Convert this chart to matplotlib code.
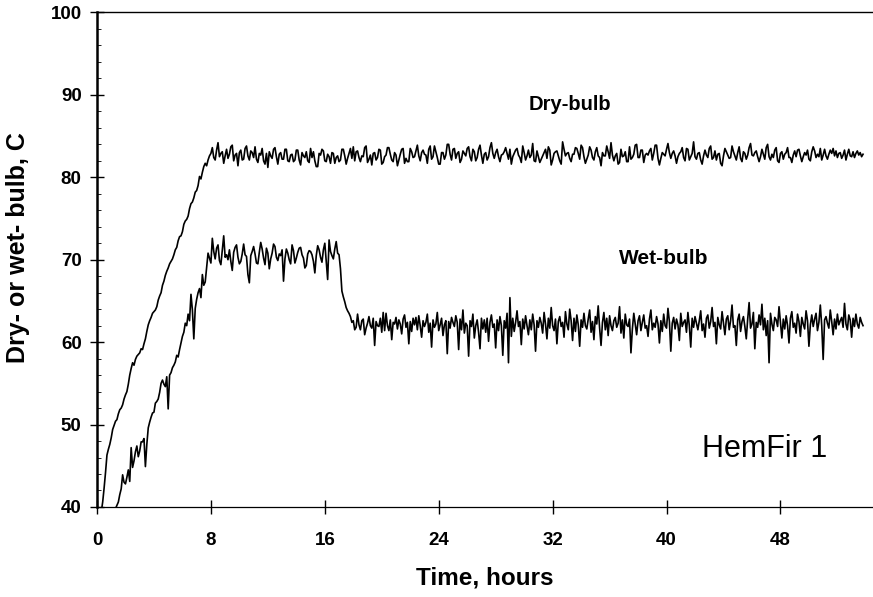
import matplotlib.pyplot as plt
import numpy as np

plt.rcParams['font.family'] = ['Liberation Sans', 'DejaVu Sans']

# kiln temperatures, one reading every 0.1 h
dt = 0.1

dry_bulb = [
    # warm-up, 0 - 8 h
    36.5, 37.5, 38.5, 39.4, 40.6, 42.3, 44.2, 46.3, 47.0, 47.6,
    48.4, 49.4, 49.9, 50.4, 50.6, 51.3, 51.8, 52.0, 52.4, 53.1,
    53.6, 54.0, 54.9, 56.0, 56.8, 57.5, 57.2, 57.9, 58.3, 58.5,
    58.7, 59.2, 59.1, 59.8, 60.4, 61.3, 62.1, 62.6, 63.0, 63.5,
    63.7, 63.9, 64.3, 65.1, 65.6, 66.0, 66.9, 67.4, 68.1, 68.6,
    69.0, 69.5, 69.8, 70.1, 70.6, 71.2, 71.5, 72.3, 72.8, 72.9,
    73.4, 74.3, 74.7, 74.9, 75.3, 76.2, 76.8, 77.0, 77.5, 78.2,
    78.4, 79.0, 80.1, 79.8, 80.6, 81.3, 81.7, 81.4, 82.1, 82.6,
    82.9,
    # holding at about 82.5 C
    83.6, 82.4, 82.1, 83.3, 84.2, 82.5, 82.9, 83.1, 81.7, 82.6,
    83.4, 82.3, 82.8, 83.7, 83.9, 82.0, 82.7, 82.9, 81.4, 83.0,
    83.3, 82.1, 82.2, 83.5, 83.8, 82.6, 82.1, 83.2, 83.0, 82.4,
    83.7, 82.2, 81.8, 82.9, 82.7, 83.5, 82.0, 81.6, 82.9, 81.2,
    83.1, 82.6, 82.3, 83.4, 83.6, 82.5, 81.6, 82.8, 83.0, 82.2,
    82.2, 83.4, 83.4, 82.0, 81.9, 82.7, 82.8, 81.9, 82.1, 83.3,
    83.3, 82.1, 81.5, 83.0, 82.6, 82.4, 83.1, 82.0, 81.8, 83.5,
    82.4, 83.1, 82.0, 81.3, 81.3, 82.9, 82.7, 83.4, 83.2, 82.0,
    81.9, 82.8, 82.5, 81.7, 83.0, 82.9, 81.7, 82.4, 82.6, 81.9,
    82.1, 83.4, 83.4, 82.6, 81.6, 82.3, 82.9, 83.5, 82.3, 83.7,
    82.0, 83.1, 83.2, 82.4, 81.9, 82.6, 82.5, 83.6, 83.8, 81.8,
    82.2, 82.7, 81.5, 82.9, 83.0, 82.1, 82.4, 83.4, 83.3, 81.6,
    81.8, 82.5, 82.7, 83.6, 83.6, 82.8, 82.1, 81.9, 83.0, 82.7,
    81.4, 82.1, 82.8, 83.4, 83.5, 81.7, 82.3, 81.9, 81.9, 83.5,
    83.1, 82.4, 82.5, 83.2, 83.9, 82.6, 82.0, 83.0, 83.3, 82.8,
    82.7, 81.7, 83.4, 83.8, 82.2, 82.5, 83.8, 83.1, 82.4, 81.6,
    81.6, 83.0, 83.0, 82.2, 82.7, 84.0, 84.0, 82.8, 82.1, 83.4,
    83.5, 82.3, 82.9, 83.1, 81.8, 82.2, 83.2, 82.9, 82.6, 83.5,
    83.7, 82.5, 82.0, 83.4, 83.1, 82.0, 82.4, 83.4, 83.9, 82.7,
    81.7, 82.8, 83.0, 82.1, 82.5, 83.6, 84.2, 82.9, 82.3, 83.0,
    83.4, 82.5, 81.9, 82.7, 82.8, 83.1, 83.6, 82.9, 82.2, 83.4,
    81.6, 82.5, 82.9, 83.3, 83.5, 82.7, 82.4, 81.8, 83.8, 83.0,
    82.1, 82.6, 83.3, 82.4, 82.7, 84.1, 82.0, 81.9, 83.2, 82.5,
    81.8, 82.2, 82.6, 83.0, 83.4, 82.3, 83.7, 83.3, 81.5, 82.1,
    82.9, 83.1, 83.2, 82.6, 82.0, 81.6, 84.3, 83.4, 82.6, 82.9,
    83.0, 82.3, 81.9, 82.8, 82.8, 83.6, 83.5, 82.9, 82.2, 83.9,
    83.6, 82.5, 81.7, 82.2, 82.7, 83.7, 83.3, 82.4, 82.1, 83.1,
    83.6, 82.6, 82.4, 81.4, 83.0, 82.6, 82.6, 83.8, 83.1, 82.3,
    84.2, 82.7, 82.0, 82.6, 82.9, 81.6, 81.8, 83.4, 82.5, 82.6,
    83.1, 81.9, 81.9, 83.7, 82.2, 82.4, 82.8, 83.9, 84.0, 82.4,
    82.4, 83.3, 83.3, 81.8, 82.7, 82.9, 82.7, 83.2, 83.5, 82.1,
    82.9, 83.9, 83.9, 82.3, 81.5, 82.3, 83.0, 82.8, 82.6, 83.4,
    84.1, 83.0, 82.3, 82.9, 83.2, 82.6, 81.7, 82.5, 82.9, 83.1,
    83.6, 82.4, 82.0, 83.5, 83.4, 82.1, 82.5, 82.9, 84.3, 82.5,
    82.2, 82.9, 83.0, 82.1, 81.6, 82.6, 83.3, 82.7, 82.4, 83.5,
    83.8, 82.2, 82.4, 83.2, 82.1, 82.8, 82.9, 81.7, 81.4, 82.6,
    83.5, 83.1, 82.7, 82.3, 82.4, 83.8, 83.1, 82.6, 82.1, 83.0,
    83.7, 82.3, 81.9, 83.1, 82.9, 82.2, 82.7, 83.6, 84.1, 82.7,
    82.6, 83.0, 83.2, 82.5, 81.9, 82.5, 83.4, 82.8, 82.2, 83.6,
    84.0, 82.5, 82.1, 82.8, 82.4, 83.3, 83.6, 82.0, 81.8, 82.9,
    83.1, 82.2, 82.8, 83.0, 83.6, 82.4, 82.4, 81.8, 82.7, 83.2,
    82.5, 83.3, 83.4, 82.6, 81.9, 82.5, 83.0, 82.7, 83.3, 82.2,
    82.0, 83.1, 83.7, 83.2, 82.4, 82.8, 82.5, 83.5, 82.1, 82.7,
    83.4, 82.6, 82.2, 82.8, 83.3, 82.9, 83.5, 82.6, 83.2, 82.4,
    82.9, 83.0, 82.3, 82.7, 83.3, 82.1, 82.8, 83.4, 82.6, 82.5,
    83.1, 82.4, 82.9, 83.2, 82.7, 83.0, 82.5, 82.8,
]

wet_bulb = [
    # warm-up, 0 - 8 h
    34.5, 34.9, 35.3, 35.6, 36.0, 36.4, 36.8, 37.2, 37.6, 38.0,
    38.4, 38.9, 39.3, 39.8, 40.2, 40.6, 41.5, 42.2, 43.9, 43.0,
    42.8, 43.6, 44.5, 43.1, 47.2, 44.8, 45.6, 46.7, 47.4, 46.1,
    46.8, 47.9, 47.9, 48.3, 44.9, 47.6, 49.6, 50.3, 50.9, 51.4,
    51.5, 52.6, 52.8, 53.1, 53.9, 55.0, 55.4, 54.9, 54.6, 55.8,
    51.9, 56.0, 56.3, 56.9, 57.2, 57.6, 58.4, 58.2, 59.1, 59.9,
    60.7, 61.2, 62.3, 62.0, 63.4, 62.6, 65.8, 63.9, 60.4, 64.1,
    65.2, 66.0, 66.5, 65.4, 68.2, 66.9, 67.3, 69.1, 70.8, 70.2,
    69.6,
    # first hold, about 70.5 C
    72.6, 71.0, 70.1, 71.4, 71.8, 69.9, 69.4, 71.2, 72.9, 70.3,
    70.6, 70.0, 71.2, 69.8, 68.7, 70.9, 71.5, 71.8, 70.3, 69.5,
    69.8, 70.7, 71.9, 70.6, 70.4, 68.2, 67.2, 70.5, 71.0, 71.6,
    70.7, 69.6, 69.5, 70.9, 72.1, 71.3, 70.2, 69.4, 71.4, 70.8,
    68.9, 70.1, 70.8, 71.9, 71.6, 70.3, 69.9, 70.7, 70.5, 71.2,
    67.4, 70.1, 71.3, 70.8, 70.0, 69.5, 71.8, 71.1, 69.6, 70.2,
    70.9, 71.4, 71.5, 70.6, 70.2, 69.0, 69.3, 70.7, 71.1, 71.0,
    70.6, 69.8, 68.4, 70.5, 71.7, 71.2, 70.3, 69.7, 71.2, 72.0,
    69.8, 67.6, 72.4, 71.0, 70.5, 70.1, 71.3, 72.2, 70.8, 70.6,
    # step down at 17 h
    68.9, 66.2, 65.5, 64.9, 64.2, 63.8, 63.5, 63.1, 62.4, 62.6,
    61.5, 61.8,
    # second hold, about 62 C
    63.4, 62.1, 61.5, 62.6, 62.8, 60.9, 61.7, 62.3, 63.1, 62.0,
    61.7, 62.9, 59.6, 62.5, 62.0, 61.9, 62.9, 61.2, 63.6, 61.4,
    63.5, 62.0, 61.4, 62.7, 60.3, 62.4, 62.2, 63.0, 61.6, 62.7,
    62.2, 61.0, 62.8, 63.3, 61.8, 62.4, 59.8, 62.5, 61.3, 62.9,
    62.1, 63.0, 61.5, 63.2, 62.0, 60.6, 62.6, 61.9, 62.4, 63.4,
    61.2, 62.3, 59.4, 62.7, 61.8, 62.2, 63.6, 61.4, 62.1, 62.9,
    60.8, 62.1, 62.6, 58.6, 62.5, 61.7, 63.0, 62.4, 61.9, 63.2,
    62.4, 59.1, 62.8, 61.5, 63.9, 61.1, 62.3, 62.0, 58.3, 62.6,
    61.9, 63.4, 60.5, 62.0, 62.7, 61.2, 59.2, 62.9, 61.6, 62.7,
    61.2, 62.9, 60.1, 62.4, 63.3, 61.8, 62.2, 59.3, 62.7, 61.4,
    63.1, 62.0, 58.4, 62.6, 61.7, 63.5, 57.5, 65.4, 60.7, 62.9,
    61.3, 62.4, 63.8, 61.9, 62.5, 59.7, 62.8, 61.6, 63.2, 62.0,
    60.9, 62.7, 61.5, 63.4, 62.1, 58.9, 62.6, 61.8, 63.0, 62.3,
    61.1, 63.6, 62.2, 60.4, 62.9, 61.7, 64.2, 62.0, 61.4, 62.8,
    59.8, 62.5, 63.1, 61.9, 62.4, 60.6, 63.7, 62.2, 61.5, 64.0,
    62.6, 60.2, 62.9, 61.3, 63.3, 62.1, 59.5, 62.7, 61.8, 63.5,
    62.0, 61.6, 62.8, 63.9, 61.2, 62.5, 60.3, 63.1, 62.2, 64.4,
    61.7, 59.6, 62.4, 63.6, 61.5, 62.9, 60.8, 63.2, 62.0, 61.4,
    62.6, 63.0, 61.8, 62.3, 64.3, 61.1, 62.7, 60.5, 63.4, 62.1,
    61.9, 62.8, 58.7, 61.6, 63.5, 62.2, 60.9, 62.6, 63.2, 61.4,
    62.4, 63.3, 61.7, 62.0, 60.7, 62.8, 63.9, 61.5, 62.3, 61.8,
    63.1, 62.2, 59.9, 62.6, 61.3, 63.4, 62.0, 61.7, 64.1, 62.5,
    58.9, 62.3, 63.0, 61.6, 62.8, 62.1, 60.2, 63.5, 61.9, 62.4,
    62.7, 61.2, 63.6, 62.0, 59.4, 62.9, 61.8, 63.1, 62.3, 61.5,
    62.6, 63.8, 61.4, 62.2, 60.6, 62.9, 63.3, 61.7, 62.5, 64.2,
    61.9, 62.4, 59.8, 63.0, 62.1, 61.6, 63.7, 62.3, 60.9, 62.8,
    63.2, 61.5, 62.6, 64.5, 61.8, 62.0, 59.6, 62.7, 63.4, 61.3,
    62.5, 63.1, 61.9, 60.4, 62.8, 64.8, 61.7, 62.2, 63.6, 59.2,
    62.4, 61.8, 63.3, 62.1, 64.6, 61.5, 62.9, 60.8, 62.6, 57.5,
    63.5, 62.2, 61.4, 63.0, 62.7, 61.9, 64.3, 62.4, 60.5, 62.8,
    61.6, 63.2, 62.0, 59.9, 62.9, 63.7, 61.8, 62.3, 61.1, 63.4,
    62.5, 60.7, 63.0, 62.2, 61.6, 63.8, 62.6, 59.5, 62.1, 63.3,
    61.9, 62.8, 63.5, 61.4, 62.4, 64.5, 62.0, 57.9, 62.7, 63.1,
    62.3, 61.7, 63.9, 62.5, 60.9, 62.8, 61.6, 63.4, 62.1, 62.6,
    63.0, 61.8, 64.7, 62.2, 61.5, 63.3, 62.7, 60.6, 62.9, 61.9,
    63.4, 62.2, 61.7, 63.0, 62.4, 62.0,
]

hours = np.arange(len(dry_bulb)) * dt

fig = plt.figure(figsize=(8.73, 5.97), dpi=100)
ax = fig.add_axes([0.1111, 0.1508, 0.8889, 0.8283])

ax.plot(hours, dry_bulb, color='black', lw=1.2)
ax.plot(hours, wet_bulb, color='black', lw=1.2)

ax.set_xlim(0, 54.5)
ax.set_ylim(40, 100)
ax.set_xticks(np.arange(0, 49, 8))
ax.set_yticks(np.arange(40, 101, 10))
ax.set_yticks(np.arange(40, 101, 2), minor=True)

ax.tick_params(axis='both', which='major', direction='inout', length=10,
               width=1.0, labelsize=13.5, colors='black')
ax.tick_params(axis='x', which='major', pad=13)
ax.tick_params(axis='y', which='major', pad=6)
ax.tick_params(axis='y', which='minor', direction='in', length=3, width=0.6)
for lbl in ax.get_xticklabels() + ax.get_yticklabels():
    lbl.set_fontweight('bold')

ax.spines['right'].set_visible(False)
ax.spines['left'].set_linewidth(1.8)
ax.spines['bottom'].set_linewidth(0.9)
ax.spines['top'].set_linewidth(1.0)

ax.set_xlabel('Time, hours', fontsize=17.5, fontweight='bold')
ax.set_ylabel('Dry- or wet- bulb, C', fontsize=18, fontweight='bold')
ax.xaxis.set_label_coords(0.5, -0.12)
ax.yaxis.set_label_coords(-0.086, 0.525)

ax.text(33.2, 88.8, 'Dry-bulb', fontsize=14.5, fontweight='bold',
        ha='center', va='center')
ax.text(39.8, 70.2, 'Wet-bulb', fontsize=15, fontweight='bold',
        ha='center', va='center')
ax.text(46.9, 47.0, 'HemFir 1', fontsize=22, ha='center', va='center')

fig.savefig('out.png', dpi=100)
